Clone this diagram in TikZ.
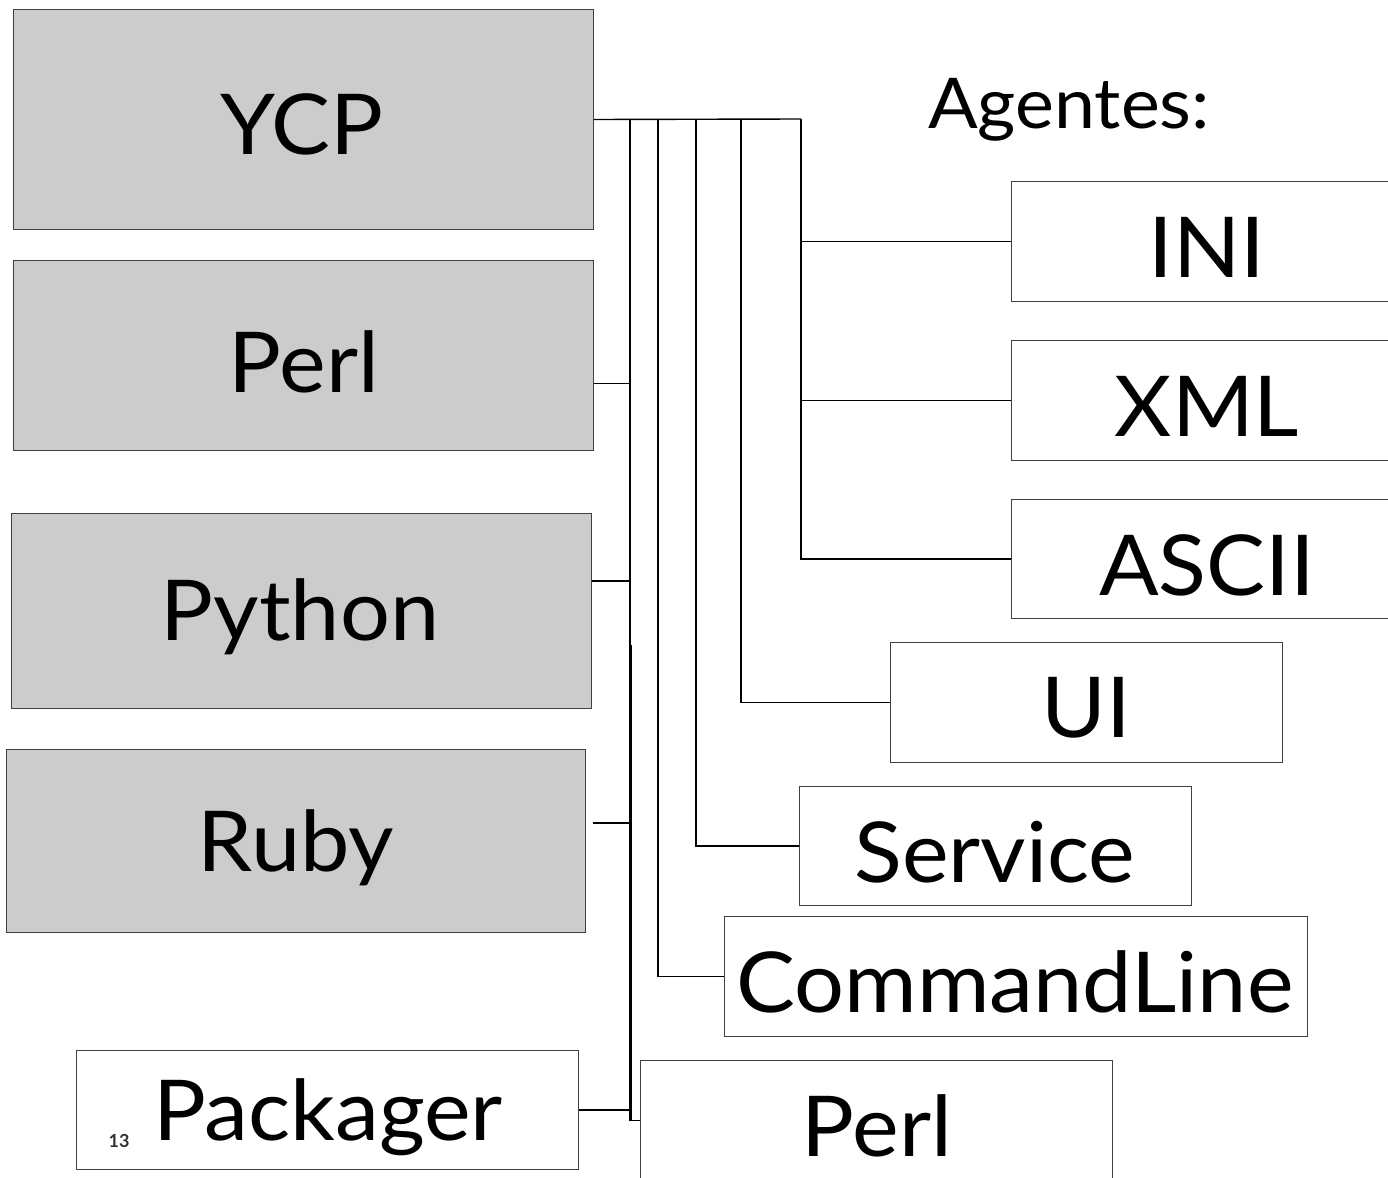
\documentclass[tikz,border=0pt]{standalone}
\usepackage{fontspec}
\setmainfont{Lato}
\newfontfamily\widelato[FakeStretch=1.05]{Lato}
\begin{document}
\begin{tikzpicture}[x=1pt,y=-1pt,
  box/.style={draw=black!75,line width=1pt,inner sep=0pt,anchor=north west},
  lang/.style={box,fill=black!20},
  agent/.style={box,fill=white},
  big/.style={font=\widelato\fontsize{84}{84}\selectfont},
  wire/.style={draw=black,line width=1.4pt}]
\useasboundingbox (0,0) rectangle (1388,1177);
\clip (0,0) rectangle (1388,1177);

% language bindings (left column)
\node[lang,minimum width=580,minimum height=220] (ycp) at (13,9) {};
\node[big] at (302,124) {YCP};
\node[lang,minimum width=580,minimum height=190] (perlL) at (13,260) {};
\node[big] at (304,362) {Perl};
\node[lang,minimum width=580,minimum height=195] (python) at (11,513) {};
\node[big] at (300,617) {Python};
\node[lang,minimum width=579,minimum height=183] (ruby) at (6,749) {};
\node[big] at (296,848) {Ruby};
\node[agent,minimum width=502,minimum height=119] (packager) at (76,1050) {};
\node[big] at (328,1117) {Packager};
\node[font=\fontsize{18}{18}\selectfont\bfseries,text=black!80] (pagenum) at (119,1141) {13};

% agents (right column)
\node[font=\widelato\fontsize{70}{70}\selectfont] (agtitle) at (1069,110) {Agentes:};
\node[agent,minimum width=392,minimum height=120] (ini) at (1011,181) {};
\node[big] at (1207,247) {INI};
\node[agent,minimum width=392,minimum height=120] (xml) at (1011,340) {};
\node[big] at (1207,406) {XML};
\node[agent,minimum width=392,minimum height=119] (ascii) at (1011,499) {};
\node[big] at (1207,565) {ASCII};
\node[agent,minimum width=392,minimum height=120] (ui) at (890,642) {};
\node[big] at (1086,708) {UI};
\node[agent,minimum width=392,minimum height=119] (service) at (799,786) {};
\node[big] at (995,852) {Service};
\node[agent,minimum width=583,minimum height=120] (cmdline) at (724,916) {};
\node[big] at (1015,982) {CommandLine};
\node[agent,minimum width=472,minimum height=120] (perlR) at (640,1060) {};
\node[big] at (877,1126) {Perl};

% bus coordinates
\coordinate (busA) at (630,119);
\coordinate (busB) at (658,119);
\coordinate (busC) at (696,119);
\coordinate (busD) at (741,119);
\coordinate (busE) at (801,119);

% where the bindings leave their boxes
\coordinate (perlLout) at ([yshift=-28]perlL.east);
\coordinate (pythonout) at ([yshift=30]python.east);
\coordinate (rubyout) at ([xshift=7,yshift=18]ruby.east);
\coordinate (splitA) at (631.5,645);
\coordinate (splitB) at (631.5,1120);

% main bus from YCP
\draw[wire] (ycp.east) -- (busE);
\draw[wire] (busE) |- (ascii.west);
\draw[wire] (busE |- ini.west) -- (ini.west);
\draw[wire] (busE |- xml.west) -- (xml.west);
\draw[wire] (busD) |- (ui.west);
\draw[wire] (busC) |- (service.west);
\draw[wire] (busB) |- (cmdline.west);
\draw[wire] (busA) |- (perlR.west);
\draw[wire] (splitA) -- (splitB);

% bindings joining the bus
\draw[wire] (perlLout) -- (busA |- perlLout);
\draw[wire] (pythonout) -- (busA |- pythonout);
\draw[wire] (rubyout) -- (busA |- rubyout);
\draw[wire] (packager.east) -- (busA |- packager.east);
\end{tikzpicture}
\end{document}
